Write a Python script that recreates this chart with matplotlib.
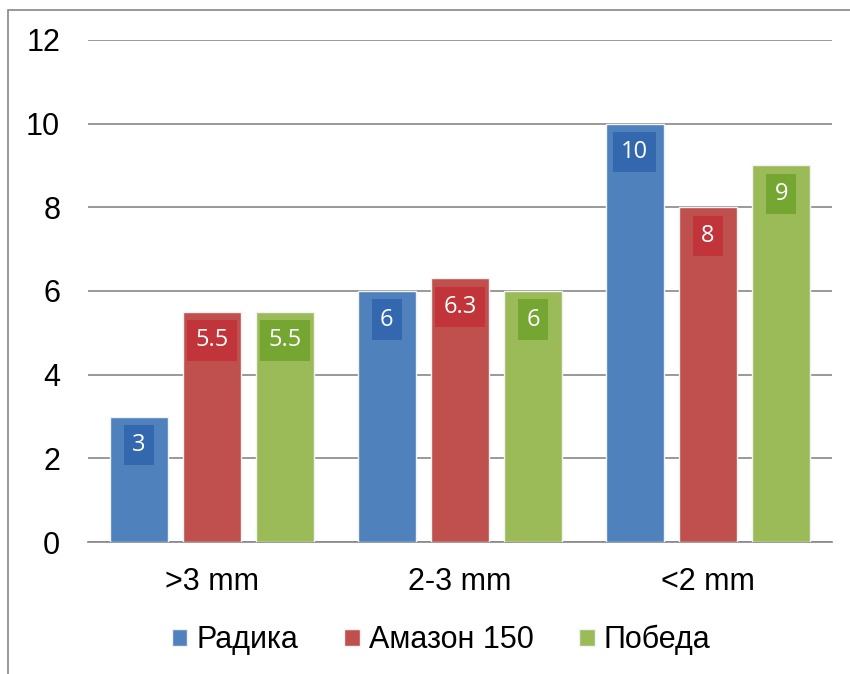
import matplotlib.pyplot as plt
import numpy as np
from matplotlib.patches import Rectangle

categories = [">3 mm", "2-3 mm", "<2 mm"]
series = ["Радика", "Амазон 150", "Победа"]
radika = [3, 6, 10]
amazon = [5.5, 6.3, 8]
pobeda = [5.5, 6, 9]
labels = [["3", "6", "10"], ["5.5", "6.3", "8"], ["5.5", "6", "9"]]

colors = ["#4F81BD", "#C0504D", "#9BBB59"]
box_colors = ["#3468AE", "#C0343A", "#76A632"]

plt.rcParams['font.family'] = ['Liberation Sans', 'DejaVu Sans']

fig = plt.figure(figsize=(8.5, 6.74), dpi=100)
ax = fig.add_axes([0.1035, 0.1958, 0.8753, 0.7449])

# outer frame
fig.patches.append(Rectangle((8/850, -0.1), 1.2, 1 - 10/674 + 0.1, transform=fig.transFigure,
                             fill=False, edgecolor="#888888", linewidth=1.2))

x = np.arange(len(categories))
width = 0.234
step = 0.296
data = [radika, amazon, pobeda]

ax.set_ylim(0, 12)
ax.set_xlim(-0.5, 2.5)
ax.set_yticks(range(0, 13, 2))
ax.grid(axis="y", color="#888888", linewidth=1.2)
ax.set_axisbelow(True)

# px per data unit for label offset
px = 502 / 12
for i, vals in enumerate(data):
    pos = x + (i - 1) * step
    ax.bar(pos, vals, width, color=colors[i], edgecolor="#f2f2f2", linewidth=1.0,
           label=series[i], zorder=3)
    for p, v, t in zip(pos, vals, labels[i]):
        ax.text(p, v - 28.5 / px, t, ha="center", va="center", color="white", fontsize=17,
                family=["Open Sans", "DejaVu Sans"], zorder=5,
                bbox=dict(boxstyle="square,pad=0.35", facecolor=box_colors[i],
                          edgecolor="none"))

for s in ["left", "right", "top"]:
    ax.spines[s].set_visible(False)
ax.spines["bottom"].set_color("#888888")
ax.spines["bottom"].set_linewidth(1.2)

ax.set_xticks(x)
ax.set_xticklabels(categories, fontsize=22)
ax.tick_params(axis="x", length=0, pad=18)
ax.tick_params(axis="y", length=0, labelsize=22, pad=20)

leg = ax.legend(loc="center", bbox_to_anchor=(0.475, -0.195), ncol=3, frameon=False,
                fontsize=22, handlelength=0.5, handleheight=0.5, handletextpad=0.3,
                columnspacing=1.5)

fig.savefig("out.png", dpi=100)
